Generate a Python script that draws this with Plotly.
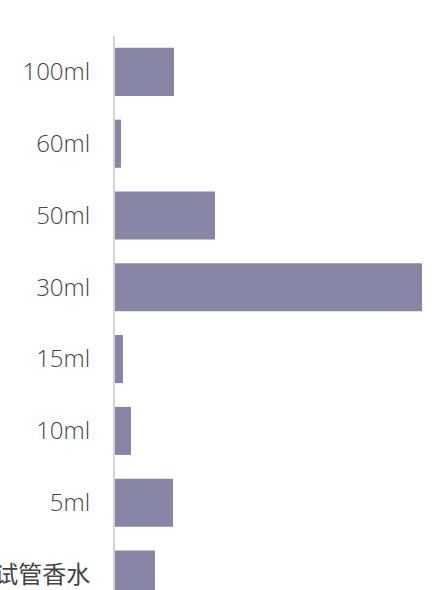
import plotly.graph_objects as go

categories = ["试管香水", "5ml", "10ml", "15ml", "30ml", "50ml", "60ml", "100ml"]
values = [40, 58, 16, 8, 307, 100, 6, 59]

def label(c):
    if any(ord(ch) > 127 for ch in c):
        return f'<span style="font-family:Noto Sans CJK SC;font-weight:400">{c}</span>'
    return c

fig = go.Figure(go.Bar(
    x=values, y=categories, orientation="h",
    marker=dict(color="#8886a7", line=dict(width=0)),
    hoverinfo="x+y",
))

fig.update_layout(
    width=435, height=590,
    margin=dict(l=115, r=13, t=36, b=0, autoexpand=False),
    paper_bgcolor="white", plot_bgcolor="white",
    bargap=0.33,
    showlegend=False,
    font=dict(family="Open Sans, Noto Sans CJK SC", size=24, color="#444444", weight=300),
)
fig.update_xaxes(range=[0, 307], visible=False, fixedrange=True)
fig.update_yaxes(
    type="category", range=[-0.216, 7.5], fixedrange=True,
    showline=True, linecolor="#d3d3d3", linewidth=2,
    showgrid=False, zeroline=False,
    ticks="", ticklabelstandoff=18,
    tickvals=categories, ticktext=[label(c) for c in categories],
    automargin=False,
)
fig.write_html("out.html")
